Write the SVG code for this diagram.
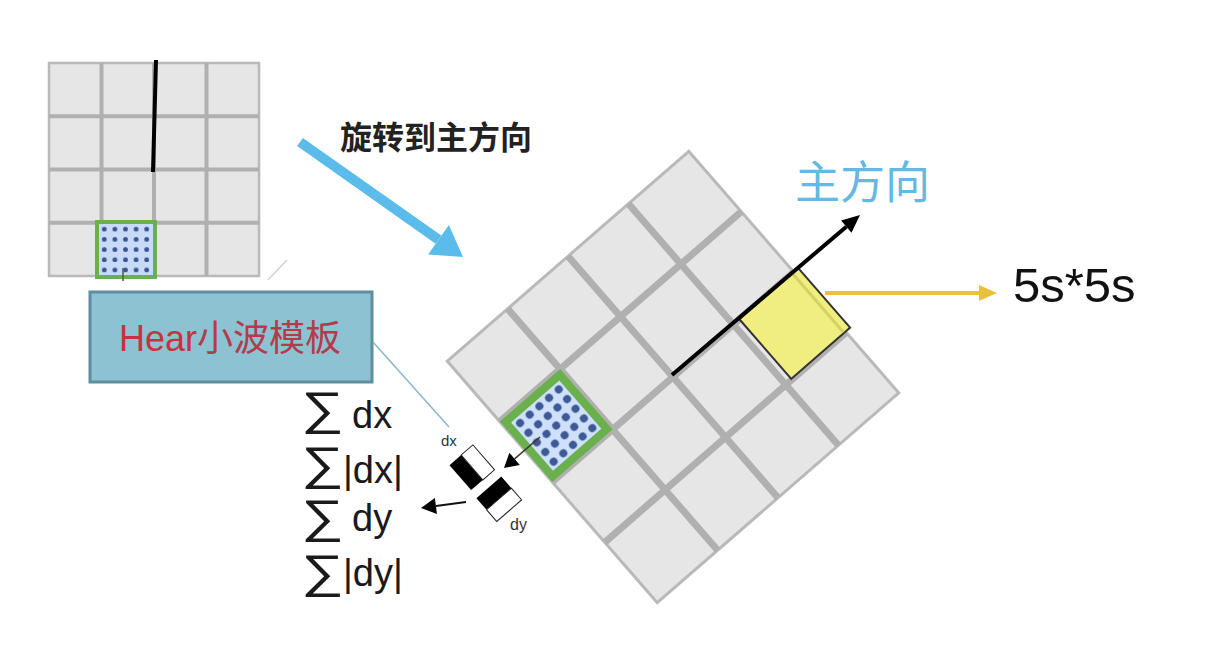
<svg xmlns="http://www.w3.org/2000/svg" width="1210" height="662" viewBox="0 0 1210 662">
<style>
.cell{fill:#e6e6e6;stroke:#b9b9b9}
.gl{stroke:#b0b0b0;fill:none}
.lat{font-family:"Liberation Sans","DejaVu Sans",sans-serif}
.cjk{font-family:"Noto Sans CJK SC",sans-serif}
.sum{font-family:"Liberation Sans","DejaVu Sans",sans-serif;font-size:38px;fill:#1a1a1a}
.sig{font-family:"DejaVu Sans","Liberation Sans",sans-serif;font-size:46px;fill:#1a1a1a;font-weight:200}
</style>
<defs>
<pattern id="dotsS" patternUnits="userSpaceOnUse" x="99" y="224" width="10.6" height="10.2">
<rect width="10.6" height="10.2" fill="#c9daf8"/>
<circle cx="5.3" cy="5.1" r="2.4" fill="#3a5592"/>
</pattern>
<pattern id="dotsL" patternUnits="userSpaceOnUse" x="-152" y="-72" width="12.8" height="12.8">
<rect width="12.8" height="12.8" fill="#cfe0fb"/>
<circle cx="6.4" cy="6.4" r="4" fill="#3d5a96"/>
</pattern>
<marker id="mBlue" markerUnits="userSpaceOnUse" markerWidth="40" markerHeight="40" refX="0" refY="0" orient="auto" overflow="visible">
<path d="M0,-18 L30,0 L0,18 Z" fill="#5bbcec"/>
</marker>
<marker id="mBlack" markerUnits="userSpaceOnUse" markerWidth="30" markerHeight="30" refX="0" refY="0" orient="auto" overflow="visible">
<path d="M0,-8 L18,0 L0,8 Z" fill="#000"/>
</marker>
<marker id="mYel" markerUnits="userSpaceOnUse" markerWidth="30" markerHeight="30" refX="0" refY="0" orient="auto" overflow="visible">
<path d="M0,-8 L18,0 L0,8 Z" fill="#e8c23a"/>
</marker>
<marker id="mSmall" markerUnits="userSpaceOnUse" markerWidth="30" markerHeight="30" refX="0" refY="0" orient="auto" overflow="visible">
<path d="M0,-8 L14,0 L0,8 Z" fill="#000"/>
</marker>
<marker id="mSum" markerUnits="userSpaceOnUse" markerWidth="30" markerHeight="30" refX="0" refY="0" orient="auto" overflow="visible">
<path d="M0,-8 L15,0 L0,8 Z" fill="#000"/>
</marker>
</defs>
<rect width="1210" height="662" fill="#ffffff"/>

<g id="grid-original">
<rect class="cell" x="49" y="63" width="210" height="213" stroke-width="2.5"/>
<path class="gl" stroke-width="4" d="M101.5,63 V276 M154,63 V276 M206.5,63 V276 M49,116.3 H259 M49,169.5 H259 M49,222.8 H259"/>
<line x1="156" y1="60" x2="153" y2="172" stroke="#000" stroke-width="4"/>
<rect x="97" y="222" width="58" height="55" fill="url(#dotsS)" stroke="#6ab04c" stroke-width="4"/>
<line x1="123" y1="268" x2="123" y2="281" stroke="#555" stroke-width="1.5"/>
</g>

<g id="title">
<text class="cjk" x="340" y="149" font-size="32" font-weight="bold" fill="#222">旋转到主方向</text>
</g>

<g id="hear-box">
<rect x="90" y="292" width="282" height="90" fill="#8cc2d2" stroke="#5f8e9c" stroke-width="3"/>
<text x="230" y="351" text-anchor="middle" font-size="36" fill="#c8323c" font-family="Liberation Sans, Noto Sans CJK SC, sans-serif">Hear<tspan fill="#b53a4a">小波模板</tspan></text>
</g>

<g id="grid-rotated" transform="translate(673,377) rotate(-41)">
<rect class="cell" x="-160" y="-160" width="320" height="320" stroke-width="3"/>
<path class="gl" stroke-width="7" d="M-80,-160 V160 M0,-160 V160 M80,-160 V160 M-160,-80 H160 M-160,0 H160 M-160,80 H160"/>
<rect x="-156" y="-76" width="72" height="72" fill="url(#dotsL)" stroke="#6ab04c" stroke-width="8"/>
<rect x="88" y="0" width="78" height="79" fill="#f0ee80" stroke="#333" stroke-width="2"/>
<line x1="158" y1="1" x2="158" y2="78" stroke="#d6d262" stroke-width="3"/>
</g>

<g id="haar-dx" transform="translate(472,467.5) rotate(-41)">
<rect x="-15.5" y="-16.5" width="15.5" height="33" fill="#000"/>
<rect x="0" y="-16.5" width="15.5" height="33" fill="#fff" stroke="#222" stroke-width="1"/>
</g>
<g id="haar-dy" transform="translate(499,499) rotate(-41)">
<rect x="-16.5" y="-15.5" width="33" height="15.5" fill="#000"/>
<rect x="-16.5" y="0" width="33" height="15.5" fill="#fff" stroke="#222" stroke-width="1"/>
</g>
<g id="haar-labels">
<text class="lat" x="441" y="446" font-size="15" fill="#333">dx</text>
<text class="lat" x="510" y="530" font-size="16" fill="#333">dy</text>
</g>

<g id="main-direction-label">
<text class="cjk" x="795" y="199" font-size="45" fill="#64b8e4">主方向</text>
</g>

<g id="size-label">
<text class="lat" x="1013" y="302" font-size="49" fill="#111">5s*5s</text>
</g>

<g id="sums">
<text class="sig" transform="translate(301,424) scale(1.3,1)">∑</text><text class="sum" x="352" y="428">dx</text>
<text class="sig" transform="translate(301,479) scale(1.3,1)">∑</text><text class="sum" x="343" y="483">|dx|</text>
<text class="sig" transform="translate(301,532) scale(1.3,1)">∑</text><text class="sum" x="352" y="531">dy</text>
<text class="sig" transform="translate(301,587) scale(1.3,1)">∑</text><text class="sum" x="343" y="586">|dy|</text>
</g>

<g id="connectors">
<line x1="300" y1="142" x2="438.5" y2="239.7" stroke="#5bbcec" stroke-width="10" marker-end="url(#mBlue)"/>
<line x1="672" y1="375" x2="846.3" y2="226.7" stroke="#000" stroke-width="4" marker-end="url(#mBlack)"/>
<line x1="825" y1="293" x2="979" y2="293" stroke="#e8c23a" stroke-width="4" marker-end="url(#mYel)"/>
<line x1="540" y1="437" x2="514.6" y2="458.9" stroke="#3a3a2a" stroke-width="1.5" marker-end="url(#mSmall)"/>
<line x1="466" y1="502" x2="435.9" y2="506" stroke="#111" stroke-width="2" marker-end="url(#mSum)"/>
<line x1="373" y1="342" x2="449" y2="427" stroke="#8ab8c8" stroke-width="1.5"/>
<line x1="287" y1="260" x2="268" y2="280" stroke="#d2d2d2" stroke-width="1.5"/>
</g>
</svg>
